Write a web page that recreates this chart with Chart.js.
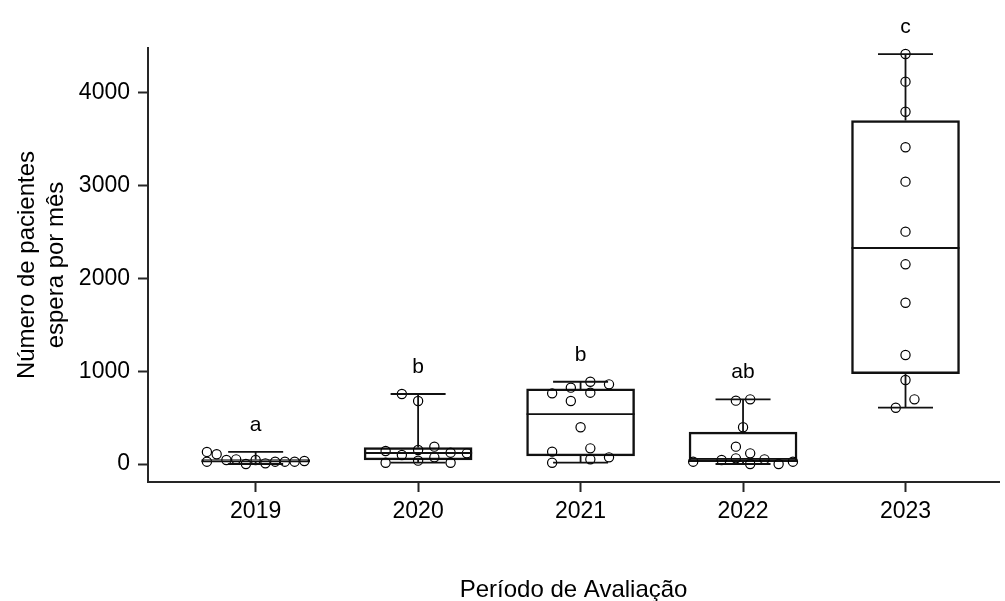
<!DOCTYPE html>
<html>
<head>
<meta charset="utf-8">
<script src="https://cdn.jsdelivr.net/npm/chart.js@4.4.1/dist/chart.umd.min.js"></script>
<style>
  html, body { margin: 0; padding: 0; background: #fff; }
  #wrap { width: 1005px; height: 601px; }
</style>
</head>
<body>
<div id="wrap"><canvas id="chart" width="1005" height="601"></canvas></div>
<script>
const years = ['2019', '2020', '2021', '2022', '2023'];
const letters = ['a', 'b', 'b', 'ab', 'c'];
const yTicks = [0, 1000, 2000, 3000, 4000];

// monthly counts per year + horizontal spread of each dot (in category units)
const v2019 = [130, 105, 25, 43, 50, 0, 43, 7, 25, 25, 25, 32];
const s2019 = [-0.30, -0.24, -0.30, -0.18, -0.12, -0.06, 0, 0.06, 0.12, 0.18, 0.24, 0.30];
const v2020 = [755, 679, 140, 97, 151, 187, 122, 115, 14, 36, 72, 14];
const s2020 = [-0.10, 0, -0.20, -0.10, 0, 0.10, 0.20, 0.30, -0.20, 0, 0.10, 0.20];
const v2021 = [887, 859, 823, 769, 762, 679, 396, 133, 169, 14, 50, 72];
const s2021 = [0.06, 0.175, -0.06, 0.06, -0.175, -0.06, 0, -0.175, 0.06, -0.175, 0.06, 0.175];
const v2022 = [683, 697, 396, 187, 115, 25, 43, 61, 0, 50, 0, 25];
const s2022 = [-0.044, 0.044, 0, -0.044, 0.044, -0.307, -0.132, -0.044, 0.044, 0.132, 0.219, 0.307];
const v2023 = [4420, 4122, 3798, 3415, 3044, 2505, 2153, 1739, 1175, 906, 697, 607];
const s2023 = [0, 0, 0, 0, 0, 0, 0, 0, 0, 0, 0.055, -0.06];

const groups = [v2019, v2020, v2021, v2022, v2023];
const spreads = [s2019, s2020, s2021, s2022, s2023];

// quartiles, (n+1)p method
function quantile(sorted, p) {
  const n = sorted.length;
  const h = (n + 1) * p;
  const lo = Math.floor(h);
  if (lo < 1) return sorted[0];
  if (lo >= n) return sorted[n - 1];
  return sorted[lo - 1] + (h - lo) * (sorted[lo] - sorted[lo - 1]);
}

const stats = groups.map(g => {
  const s = [...g].sort((a, b) => a - b);
  return {
    min: s[0],
    q1: quantile(s, 0.25),
    med: quantile(s, 0.5),
    q3: quantile(s, 0.75),
    max: s[s.length - 1]
  };
});

const points = [];
groups.forEach((g, i) => {
  g.forEach((v, j) => points.push({ x: i + 1 + spreads[i][j], y: v }));
});

const FONT = '"Liberation Sans", Arial, sans-serif';
const AXIS = '#262626';

// whiskers, staples, medians and the letters over each box
const boxExtras = {
  id: 'boxExtras',
  afterDatasetsDraw(chart) {
    const { ctx, scales: { x, y } } = chart;
    const boxHalf = 54;
    const capHalf = 27.5;
    ctx.save();
    ctx.strokeStyle = '#111';
    ctx.lineWidth = 1.8;
    stats.forEach((s, i) => {
      const cx = x.getPixelForValue(i + 1);
      const yMin = y.getPixelForValue(s.min);
      const yMax = y.getPixelForValue(s.max);
      const yQ1 = y.getPixelForValue(s.q1);
      const yQ3 = y.getPixelForValue(s.q3);
      const yMed = y.getPixelForValue(s.med);
      ctx.beginPath();
      ctx.moveTo(cx, yQ3); ctx.lineTo(cx, yMax);
      ctx.moveTo(cx, yQ1); ctx.lineTo(cx, yMin);
      ctx.moveTo(cx - capHalf, yMax); ctx.lineTo(cx + capHalf, yMax);
      ctx.moveTo(cx - capHalf, yMin); ctx.lineTo(cx + capHalf, yMin);
      ctx.moveTo(cx - boxHalf, yMed); ctx.lineTo(cx + boxHalf, yMed);
      ctx.stroke();

      ctx.fillStyle = '#000';
      ctx.font = '21px ' + FONT;
      ctx.textAlign = 'center';
      ctx.textBaseline = 'alphabetic';
      ctx.fillText(letters[i], cx, yMax - 21);
    });
    ctx.restore();
  }
};

new Chart(document.getElementById('chart'), {
  type: 'bar',
  data: {
    datasets: [{
      type: 'bar',
      data: stats.map((s, i) => ({ x: i + 1, y: [s.q1, s.q3] })),
      backgroundColor: 'rgba(255,255,255,0)',
      borderColor: '#111',
      borderWidth: 1.8,
      borderSkipped: false,
      barThickness: 108,
      order: 2
    }, {
      type: 'scatter',
      data: points,
      pointRadius: 4.6,
      pointBorderWidth: 1.2,
      pointBackgroundColor: 'rgba(0,0,0,0)',
      pointBorderColor: '#000',
      showLine: false,
      order: 1
    }]
  },
  options: {
    responsive: false,
    animation: false,
    layout: { padding: { top: 48, right: 3, bottom: 0, left: 0 } },
    plugins: { legend: { display: false }, tooltip: { enabled: false } },
    scales: {
      x: {
        type: 'linear',
        min: 0.3374,
        max: 5.5767,
        offset: false,
        afterBuildTicks: scale => { scale.ticks = [1, 2, 3, 4, 5].map(v => ({ value: v })); },
        afterFit: scale => { scale.height = 119; },
        ticks: {
          callback: v => years[Math.round(v) - 1],
          font: { family: FONT, size: 23 },
          color: '#000',
          padding: 6,
          maxRotation: 0,
          autoSkip: false
        },
        grid: { offset: false, drawOnChartArea: false, drawTicks: true, tickLength: 10, tickWidth: 2, tickColor: AXIS },
        border: { display: true, color: AXIS, width: 2 },
        title: {
          display: true,
          text: 'Período de Avaliação',
          color: '#000',
          font: { family: FONT, size: 24 },
          padding: { top: 0, bottom: -4 }
        }
      },
      y: {
        type: 'linear',
        min: -194,
        max: 4485,
        afterBuildTicks: scale => { scale.ticks = yTicks.map(v => ({ value: v })); },
        afterFit: scale => { scale.width = 148; },
        ticks: {
          callback: v => String(v),
          font: { family: FONT, size: 23 },
          color: '#000',
          padding: 8
        },
        grid: { drawOnChartArea: false, drawTicks: true, tickLength: 10, tickWidth: 2, tickColor: AXIS },
        border: { display: true, color: AXIS, width: 2 },
        title: {
          display: true,
          text: ['Número de pacientes', 'espera por mês'],
          color: '#000',
          font: { family: FONT, size: 24, lineHeight: 1.2 },
          padding: { top: 13, bottom: 0 }
        }
      }
    }
  },
  plugins: [boxExtras]
});
</script>
</body>
</html>
